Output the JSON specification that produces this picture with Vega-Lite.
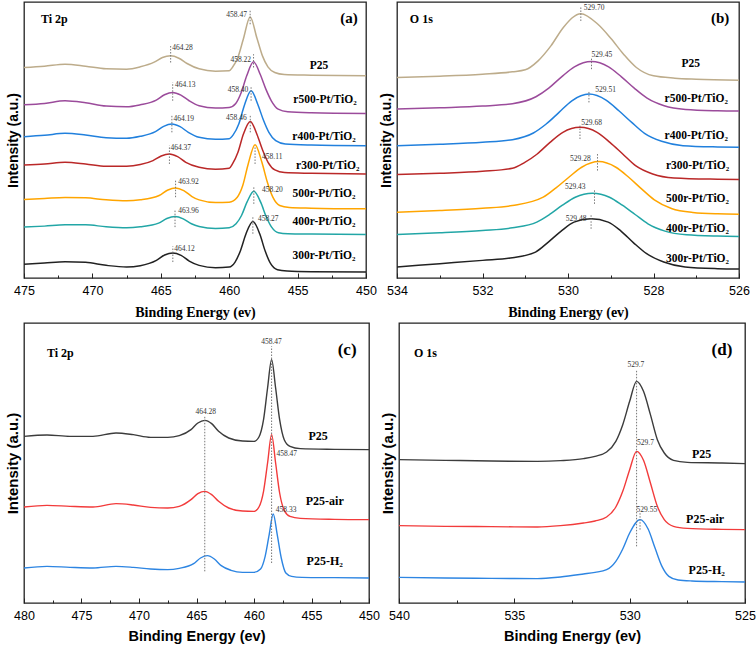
{
  "$schema": "https://vega.github.io/schema/vega-lite/v6.json",
  "padding": {"left": 4, "top": 1, "right": 2, "bottom": 2},
  "background": "white",
  "config": {
    "view": {"stroke": "#222", "strokeWidth": 1.3},
    "axisX": {"grid": false, "domain": false, "labelFont": "Liberation Sans", "labelFontSize": 12.5, "labelColor": "#000", "tickColor": "#222", "tickWidth": 1, "labelPadding": 11, "labelFlush": false, "labelOverlap": false, "labelBound": false, "titleFontWeight": "bold", "titleColor": "#000"},
    "axisY": {"title": "Intensity (a.u.)", "labels": false, "ticks": false, "domain": false, "grid": false, "titleFont": "Liberation Sans", "titleFontWeight": "bold", "titleColor": "#000", "titlePadding": 4}
  },
  "datasets": {
    "a": [
      {"s":"P25","x":475,"y":640},{"s":"P25","x":473.5,"y":644},{"s":"P25","x":472,"y":650},{"s":"P25","x":470.5,"y":644},{"s":"P25","x":469,"y":636},{"s":"P25","x":467.5,"y":635},{"s":"P25","x":466.5,"y":642},{"s":"P25","x":465.48,"y":656},{"s":"P25","x":464.88,"y":670},{"s":"P25","x":464.28,"y":675},{"s":"P25","x":463.68,"y":668},{"s":"P25","x":463.08,"y":652},{"s":"P25","x":462.2,"y":636},{"s":"P25","x":461,"y":629},{"s":"P25","x":460,"y":630},{"s":"P25","x":459.77,"y":640},{"s":"P25","x":459.37,"y":670},{"s":"P25","x":458.97,"y":725},{"s":"P25","x":458.47,"y":792},{"s":"P25","x":457.97,"y":728},{"s":"P25","x":457.57,"y":675},{"s":"P25","x":457.17,"y":642},{"s":"P25","x":456.67,"y":625},{"s":"P25","x":455.97,"y":619},{"s":"P25","x":454,"y":617},{"s":"P25","x":450,"y":615},
      {"s":"r500","x":475,"y":528},{"s":"r500","x":473.5,"y":532},{"s":"r500","x":472,"y":540},{"s":"r500","x":470.5,"y":534},{"s":"r500","x":469,"y":524},{"s":"r500","x":467.5,"y":522},{"s":"r500","x":466.5,"y":528},{"s":"r500","x":465.33,"y":542},{"s":"r500","x":464.73,"y":558},{"s":"r500","x":464.13,"y":565},{"s":"r500","x":463.53,"y":557},{"s":"r500","x":462.93,"y":540},{"s":"r500","x":462.2,"y":525},{"s":"r500","x":461,"y":518},{"s":"r500","x":460,"y":520},{"s":"r500","x":459.52,"y":532},{"s":"r500","x":459.12,"y":565},{"s":"r500","x":458.72,"y":615},{"s":"r500","x":458.22,"y":657},{"s":"r500","x":457.72,"y":618},{"s":"r500","x":457.32,"y":575},{"s":"r500","x":456.92,"y":540},{"s":"r500","x":456.42,"y":515},{"s":"r500","x":455.72,"y":507},{"s":"r500","x":454,"y":504},{"s":"r500","x":450,"y":502},
      {"s":"r400","x":475,"y":432},{"s":"r400","x":473.5,"y":436},{"s":"r400","x":472,"y":442},{"s":"r400","x":470.5,"y":437},{"s":"r400","x":469,"y":429},{"s":"r400","x":467.5,"y":427},{"s":"r400","x":466.5,"y":433},{"s":"r400","x":465.39,"y":447},{"s":"r400","x":464.79,"y":463},{"s":"r400","x":464.19,"y":470},{"s":"r400","x":463.59,"y":462},{"s":"r400","x":462.99,"y":445},{"s":"r400","x":462.2,"y":430},{"s":"r400","x":461,"y":424},{"s":"r400","x":460,"y":426},{"s":"r400","x":459.7,"y":438},{"s":"r400","x":459.3,"y":470},{"s":"r400","x":458.9,"y":525},{"s":"r400","x":458.4,"y":570},{"s":"r400","x":457.9,"y":528},{"s":"r400","x":457.5,"y":482},{"s":"r400","x":457.1,"y":445},{"s":"r400","x":456.6,"y":420},{"s":"r400","x":455.9,"y":410},{"s":"r400","x":454,"y":407},{"s":"r400","x":450,"y":405},
      {"s":"r300","x":475,"y":347},{"s":"r300","x":473.5,"y":350},{"s":"r300","x":472,"y":355},{"s":"r300","x":470.5,"y":350},{"s":"r300","x":469,"y":343},{"s":"r300","x":467.5,"y":343},{"s":"r300","x":466.5,"y":348},{"s":"r300","x":465.57,"y":360},{"s":"r300","x":464.97,"y":374},{"s":"r300","x":464.37,"y":380},{"s":"r300","x":463.77,"y":372},{"s":"r300","x":463.17,"y":355},{"s":"r300","x":462.2,"y":340},{"s":"r300","x":461,"y":334},{"s":"r300","x":460,"y":337},{"s":"r300","x":459.76,"y":350},{"s":"r300","x":459.36,"y":385},{"s":"r300","x":458.96,"y":440},{"s":"r300","x":458.46,"y":478},{"s":"r300","x":457.96,"y":438},{"s":"r300","x":457.56,"y":392},{"s":"r300","x":457.16,"y":355},{"s":"r300","x":456.66,"y":332},{"s":"r300","x":455.96,"y":324},{"s":"r300","x":454,"y":322},{"s":"r300","x":450,"y":320},
      {"s":"500r","x":475,"y":243},{"s":"500r","x":473.5,"y":246},{"s":"500r","x":472,"y":249},{"s":"500r","x":470.5,"y":248},{"s":"500r","x":469,"y":242},{"s":"500r","x":467.5,"y":239},{"s":"500r","x":466.5,"y":242},{"s":"500r","x":465.12,"y":255},{"s":"500r","x":464.52,"y":271},{"s":"500r","x":463.92,"y":278},{"s":"500r","x":463.32,"y":270},{"s":"500r","x":462.72,"y":252},{"s":"500r","x":462.2,"y":242},{"s":"500r","x":461,"y":234},{"s":"500r","x":460,"y":235},{"s":"500r","x":459.41,"y":250},{"s":"500r","x":459.01,"y":285},{"s":"500r","x":458.61,"y":350},{"s":"500r","x":458.11,"y":408},{"s":"500r","x":457.61,"y":355},{"s":"500r","x":457.21,"y":295},{"s":"500r","x":456.81,"y":250},{"s":"500r","x":456.31,"y":225},{"s":"500r","x":455.61,"y":219},{"s":"500r","x":454,"y":217},{"s":"500r","x":450,"y":215},
      {"s":"400r","x":475,"y":160},{"s":"400r","x":473.5,"y":163},{"s":"400r","x":472,"y":167},{"s":"400r","x":470.5,"y":167},{"s":"400r","x":469,"y":161},{"s":"400r","x":467.5,"y":158},{"s":"400r","x":466.5,"y":161},{"s":"400r","x":465.16,"y":172},{"s":"400r","x":464.56,"y":186},{"s":"400r","x":463.96,"y":192},{"s":"400r","x":463.36,"y":185},{"s":"400r","x":462.76,"y":170},{"s":"400r","x":462.2,"y":162},{"s":"400r","x":461,"y":156},{"s":"400r","x":460,"y":158},{"s":"400r","x":459.5,"y":170},{"s":"400r","x":459.1,"y":195},{"s":"400r","x":458.7,"y":235},{"s":"400r","x":458.2,"y":268},{"s":"400r","x":457.7,"y":235},{"s":"400r","x":457.3,"y":192},{"s":"400r","x":456.9,"y":160},{"s":"400r","x":456.4,"y":143},{"s":"400r","x":455.7,"y":140},{"s":"400r","x":454,"y":139},{"s":"400r","x":450,"y":138},
      {"s":"300r","x":475,"y":48},{"s":"300r","x":473.5,"y":52},{"s":"300r","x":472,"y":56},{"s":"300r","x":470.5,"y":54},{"s":"300r","x":469,"y":45},{"s":"300r","x":467.5,"y":40},{"s":"300r","x":466.5,"y":44},{"s":"300r","x":465.32,"y":60},{"s":"300r","x":464.72,"y":76},{"s":"300r","x":464.12,"y":82},{"s":"300r","x":463.52,"y":75},{"s":"300r","x":462.92,"y":58},{"s":"300r","x":462.2,"y":45},{"s":"300r","x":461,"y":38},{"s":"300r","x":460,"y":40},{"s":"300r","x":459.57,"y":55},{"s":"300r","x":459.17,"y":90},{"s":"300r","x":458.77,"y":140},{"s":"300r","x":458.27,"y":177},{"s":"300r","x":457.77,"y":140},{"s":"300r","x":457.37,"y":88},{"s":"300r","x":456.97,"y":50},{"s":"300r","x":456.47,"y":32},{"s":"300r","x":455.77,"y":28},{"s":"300r","x":454,"y":26},{"s":"300r","x":450,"y":25}
    ],
    "a_pk": [
      {"x":464.28,"y":655,"y2":705},{"x":458.47,"y":770,"y2":815},{"x":458.22,"y":640,"y2":680},{"x":464.13,"y":540,"y2":595},{"x":458.40,"y":540,"y2":585},{"x":464.19,"y":445,"y2":495},{"x":458.46,"y":445,"y2":495},{"x":464.37,"y":350,"y2":405},{"x":458.11,"y":350,"y2":400},{"x":463.92,"y":250,"y2":300},{"x":458.20,"y":230,"y2":280},{"x":463.96,"y":160,"y2":210},{"x":458.27,"y":140,"y2":190},{"x":464.12,"y":55,"y2":102}
    ],
    "a_pl": [
      {"x":464.17,"y":698,"t":"464.28","al":"l"},{"x":458.7,"y":798,"t":"458.47","al":"r"},{"x":458.4,"y":664,"t":"458.22","al":"r"},{"x":463.97,"y":587,"t":"464.13","al":"l"},{"x":458.6,"y":572,"t":"458.40","al":"r"},{"x":464.08,"y":485,"t":"464.19","al":"l"},{"x":458.72,"y":488,"t":"458.46","al":"r"},{"x":464.3,"y":397,"t":"464.37","al":"l"},{"x":457.6,"y":372,"t":"458.11","al":"l"},{"x":463.73,"y":295,"t":"463.92","al":"l"},{"x":457.6,"y":272,"t":"458.20","al":"l"},{"x":463.73,"y":208,"t":"463.96","al":"l"},{"x":457.9,"y":185,"t":"458.27","al":"l"},{"x":464.02,"y":95,"t":"464.12","al":"l"}
    ],
    "a_cl": [
      {"x":453.43,"y":645,"t":"P25"},{"x":453.0,"y":542,"t":"r500-Pt/TiO₂"},{"x":453.07,"y":430,"t":"r400-Pt/TiO₂"},{"x":452.8,"y":343,"t":"r300-Pt/TiO₂"},{"x":453.07,"y":260,"t":"500r-Pt/TiO₂"},{"x":453.07,"y":175,"t":"400r-Pt/TiO₂"},{"x":453.07,"y":72,"t":"300r-Pt/TiO₂"}
    ],
    "b": [
      {"s":"P25","x":534,"y":610},{"s":"P25","x":533,"y":614},{"s":"P25","x":532,"y":620},{"s":"P25","x":531.3,"y":627},{"s":"P25","x":531.0,"y":633},{"s":"P25","x":530.7,"y":660},{"s":"P25","x":530.4,"y":705},{"s":"P25","x":530.1,"y":762},{"s":"P25","x":529.7,"y":802},{"s":"P25","x":529.3,"y":770},{"s":"P25","x":529.0,"y":728},{"s":"P25","x":528.7,"y":680},{"s":"P25","x":528.4,"y":640},{"s":"P25","x":528.0,"y":615},{"s":"P25","x":527.5,"y":608},{"s":"P25","x":527.0,"y":605},{"s":"P25","x":526,"y":602},
      {"s":"r500","x":534,"y":515},{"s":"r500","x":533,"y":519},{"s":"r500","x":532,"y":524},{"s":"r500","x":531.3,"y":531},{"s":"r500","x":530.75,"y":552},{"s":"r500","x":530.45,"y":578},{"s":"r500","x":530.15,"y":612},{"s":"r500","x":529.85,"y":642},{"s":"r500","x":529.45,"y":658},{"s":"r500","x":529.05,"y":642},{"s":"r500","x":528.75,"y":612},{"s":"r500","x":528.45,"y":578},{"s":"r500","x":528.15,"y":548},{"s":"r500","x":527.75,"y":525},{"s":"r500","x":527.25,"y":514},{"s":"r500","x":526.5,"y":510},{"s":"r500","x":526,"y":509},
      {"s":"r400","x":534,"y":405},{"s":"r400","x":533,"y":409},{"s":"r400","x":532,"y":415},{"s":"r400","x":531.3,"y":423},{"s":"r400","x":530.81,"y":443},{"s":"r400","x":530.51,"y":470},{"s":"r400","x":530.21,"y":505},{"s":"r400","x":529.91,"y":540},{"s":"r400","x":529.51,"y":560},{"s":"r400","x":529.11,"y":542},{"s":"r400","x":528.81,"y":510},{"s":"r400","x":528.51,"y":475},{"s":"r400","x":528.21,"y":442},{"s":"r400","x":527.81,"y":418},{"s":"r400","x":527.31,"y":405},{"s":"r400","x":526.5,"y":401},{"s":"r400","x":526,"y":400},
      {"s":"r300","x":534,"y":318},{"s":"r300","x":533,"y":322},{"s":"r300","x":532,"y":328},{"s":"r300","x":531.3,"y":337},{"s":"r300","x":531.02,"y":354},{"s":"r300","x":530.72,"y":380},{"s":"r300","x":530.42,"y":415},{"s":"r300","x":530.12,"y":445},{"s":"r300","x":529.72,"y":460},{"s":"r300","x":529.32,"y":445},{"s":"r300","x":529.02,"y":415},{"s":"r300","x":528.72,"y":380},{"s":"r300","x":528.42,"y":345},{"s":"r300","x":528.02,"y":320},{"s":"r300","x":527.52,"y":308},{"s":"r300","x":526.5,"y":304},{"s":"r300","x":526,"y":303},
      {"s":"500r","x":534,"y":205},{"s":"500r","x":533,"y":210},{"s":"500r","x":532,"y":217},{"s":"500r","x":531.3,"y":225},{"s":"500r","x":530.58,"y":250},{"s":"500r","x":530.28,"y":278},{"s":"500r","x":529.98,"y":310},{"s":"500r","x":529.68,"y":340},{"s":"500r","x":529.28,"y":357},{"s":"500r","x":528.88,"y":340},{"s":"500r","x":528.58,"y":310},{"s":"500r","x":528.28,"y":275},{"s":"500r","x":527.98,"y":242},{"s":"500r","x":527.58,"y":216},{"s":"500r","x":527.08,"y":204},{"s":"500r","x":526.5,"y":200},{"s":"500r","x":526,"y":199},
      {"s":"400r","x":534,"y":138},{"s":"400r","x":533,"y":143},{"s":"400r","x":532,"y":150},{"s":"400r","x":531.3,"y":158},{"s":"400r","x":530.73,"y":175},{"s":"400r","x":530.43,"y":198},{"s":"400r","x":530.13,"y":226},{"s":"400r","x":529.83,"y":250},{"s":"400r","x":529.43,"y":262},{"s":"400r","x":529.03,"y":250},{"s":"400r","x":528.73,"y":226},{"s":"400r","x":528.43,"y":198},{"s":"400r","x":528.13,"y":170},{"s":"400r","x":527.73,"y":148},{"s":"400r","x":527.23,"y":137},{"s":"400r","x":526.5,"y":133},{"s":"400r","x":526,"y":132},
      {"s":"300r","x":534,"y":40},{"s":"300r","x":533,"y":50},{"s":"300r","x":532,"y":60},{"s":"300r","x":531.3,"y":68},{"s":"300r","x":530.76,"y":85},{"s":"300r","x":530.46,"y":115},{"s":"300r","x":530.16,"y":148},{"s":"300r","x":529.86,"y":175},{"s":"300r","x":529.46,"y":185},{"s":"300r","x":529.06,"y":175},{"s":"300r","x":528.76,"y":148},{"s":"300r","x":528.46,"y":112},{"s":"300r","x":528.16,"y":80},{"s":"300r","x":527.76,"y":55},{"s":"300r","x":527.26,"y":40},{"s":"300r","x":526.5,"y":35},{"s":"300r","x":526,"y":34}
    ],
    "b_pk": [
      {"x":529.70,"y":780,"y2":825},{"x":529.45,"y":635,"y2":670},{"x":529.51,"y":535,"y2":570},{"x":529.72,"y":425,"y2":465},{"x":529.31,"y":330,"y2":380},{"x":529.38,"y":230,"y2":275},{"x":529.46,"y":155,"y2":200}
    ],
    "b_pl": [
      {"x":529.63,"y":820,"t":"529.70","al":"l"},{"x":529.45,"y":677,"t":"529.45","al":"l"},{"x":529.36,"y":572,"t":"529.51","al":"l"},{"x":529.69,"y":472,"t":"529.68","al":"l"},{"x":529.47,"y":365,"t":"529.28","al":"r"},{"x":529.59,"y":282,"t":"529.43","al":"r"},{"x":529.57,"y":185,"t":"529.48","al":"r"}
    ],
    "b_cl": [
      {"x":527.13,"y":650,"t":"P25"},{"x":527.0,"y":545,"t":"r500-Pt/TiO₂"},{"x":527.0,"y":435,"t":"r400-Pt/TiO₂"},{"x":526.97,"y":345,"t":"r300-Pt/TiO₂"},{"x":526.97,"y":245,"t":"500r-Pt/TiO₂"},{"x":526.97,"y":155,"t":"400r-Pt/TiO₂"},{"x":526.97,"y":65,"t":"300r-Pt/TiO₂"}
    ],
    "c": [
      {"s":"P25","x":480,"y":500},{"s":"P25","x":478,"y":504},{"s":"P25","x":476,"y":500},{"s":"P25","x":474,"y":500},{"s":"P25","x":472,"y":510},{"s":"P25","x":470.5,"y":505},{"s":"P25","x":469,"y":497},{"s":"P25","x":467.5,"y":497},{"s":"P25","x":466.5,"y":502},{"s":"P25","x":465.48,"y":520},{"s":"P25","x":464.88,"y":540},{"s":"P25","x":464.28,"y":548},{"s":"P25","x":463.68,"y":538},{"s":"P25","x":463.08,"y":515},{"s":"P25","x":462.2,"y":495},{"s":"P25","x":461,"y":486},{"s":"P25","x":460,"y":485},{"s":"P25","x":459.57,"y":498},{"s":"P25","x":459.17,"y":550},{"s":"P25","x":458.82,"y":645},{"s":"P25","x":458.47,"y":730},{"s":"P25","x":458.12,"y":645},{"s":"P25","x":457.77,"y":550},{"s":"P25","x":457.37,"y":490},{"s":"P25","x":456.87,"y":470},{"s":"P25","x":455.97,"y":463},{"s":"P25","x":453,"y":461},{"s":"P25","x":450,"y":460},
      {"s":"air","x":480,"y":288},{"s":"air","x":478,"y":293},{"s":"air","x":476,"y":290},{"s":"air","x":474,"y":288},{"s":"air","x":472,"y":298},{"s":"air","x":470.5,"y":294},{"s":"air","x":469,"y":287},{"s":"air","x":467.5,"y":285},{"s":"air","x":466.5,"y":290},{"s":"air","x":465.48,"y":310},{"s":"air","x":464.88,"y":328},{"s":"air","x":464.28,"y":335},{"s":"air","x":463.68,"y":325},{"s":"air","x":463.08,"y":305},{"s":"air","x":462.2,"y":285},{"s":"air","x":461,"y":276},{"s":"air","x":460,"y":275},{"s":"air","x":459.57,"y":288},{"s":"air","x":459.17,"y":335},{"s":"air","x":458.82,"y":420},{"s":"air","x":458.47,"y":505},{"s":"air","x":458.12,"y":420},{"s":"air","x":457.77,"y":330},{"s":"air","x":457.37,"y":278},{"s":"air","x":456.87,"y":260},{"s":"air","x":455.97,"y":254},{"s":"air","x":453,"y":251},{"s":"air","x":450,"y":250},
      {"s":"H2","x":480,"y":105},{"s":"H2","x":478,"y":110},{"s":"H2","x":476,"y":107},{"s":"H2","x":474,"y":105},{"s":"H2","x":472,"y":110},{"s":"H2","x":470.5,"y":107},{"s":"H2","x":469,"y":102},{"s":"H2","x":467.5,"y":100},{"s":"H2","x":466.5,"y":104},{"s":"H2","x":465.25,"y":118},{"s":"H2","x":464.65,"y":135},{"s":"H2","x":464.05,"y":142},{"s":"H2","x":463.45,"y":132},{"s":"H2","x":462.85,"y":112},{"s":"H2","x":462,"y":98},{"s":"H2","x":461,"y":92},{"s":"H2","x":460,"y":92},{"s":"H2","x":459.43,"y":102},{"s":"H2","x":459.03,"y":140},{"s":"H2","x":458.68,"y":205},{"s":"H2","x":458.33,"y":267},{"s":"H2","x":457.98,"y":205},{"s":"H2","x":457.63,"y":135},{"s":"H2","x":457.23,"y":90},{"s":"H2","x":456.73,"y":80},{"s":"H2","x":455.83,"y":77},{"s":"H2","x":453,"y":76},{"s":"H2","x":450,"y":75}
    ],
    "c_pk": [{"x":458.47,"y":120,"y2":770},{"x":464.28,"y":95,"y2":560}],
    "c_pl": [
      {"x":458.48,"y":782,"t":"458.47","al":"c"},{"x":464.2,"y":572,"t":"464.28","al":"c"},{"x":458.05,"y":448,"t":"458.47","al":"l"},{"x":458.1,"y":278,"t":"458.33","al":"l"}
    ],
    "c_cl": [{"x":454.43,"y":502,"t":"P25"},{"x":453.85,"y":305,"t":"P25-air"},{"x":453.85,"y":125,"t":"P25-H₂"}],
    "d": [
      {"s":"P25","x":540,"y":430},{"s":"P25","x":538,"y":428},{"s":"P25","x":536,"y":426},{"s":"P25","x":534,"y":425},{"s":"P25","x":533,"y":427},{"s":"P25","x":532,"y":433},{"s":"P25","x":531.5,"y":440},{"s":"P25","x":531.0,"y":453},{"s":"P25","x":530.6,"y":485},{"s":"P25","x":530.3,"y":535},{"s":"P25","x":530.0,"y":605},{"s":"P25","x":529.7,"y":665},{"s":"P25","x":529.4,"y":635},{"s":"P25","x":529.1,"y":565},{"s":"P25","x":528.8,"y":490},{"s":"P25","x":528.5,"y":450},{"s":"P25","x":528.1,"y":428},{"s":"P25","x":527.5,"y":422},{"s":"P25","x":526,"y":420},{"s":"P25","x":525,"y":418},
      {"s":"air","x":540,"y":232},{"s":"air","x":538,"y":230},{"s":"air","x":536,"y":229},{"s":"air","x":534,"y":228},{"s":"air","x":533,"y":232},{"s":"air","x":532,"y":240},{"s":"air","x":531.5,"y":246},{"s":"air","x":531.0,"y":258},{"s":"air","x":530.6,"y":288},{"s":"air","x":530.3,"y":335},{"s":"air","x":530.0,"y":400},{"s":"air","x":529.7,"y":455},{"s":"air","x":529.4,"y":428},{"s":"air","x":529.1,"y":360},{"s":"air","x":528.8,"y":290},{"s":"air","x":528.5,"y":250},{"s":"air","x":528.1,"y":230},{"s":"air","x":527.5,"y":224},{"s":"air","x":526,"y":221},{"s":"air","x":525,"y":220},
      {"s":"H2","x":540,"y":77},{"s":"H2","x":538,"y":75},{"s":"H2","x":536,"y":74},{"s":"H2","x":534,"y":73},{"s":"H2","x":533,"y":78},{"s":"H2","x":532,"y":87},{"s":"H2","x":531.5,"y":92},{"s":"H2","x":531.0,"y":100},{"s":"H2","x":530.6,"y":125},{"s":"H2","x":530.3,"y":162},{"s":"H2","x":530.0,"y":210},{"s":"H2","x":529.55,"y":250},{"s":"H2","x":529.2,"y":222},{"s":"H2","x":528.9,"y":165},{"s":"H2","x":528.6,"y":110},{"s":"H2","x":528.3,"y":80},{"s":"H2","x":527.9,"y":69},{"s":"H2","x":527.3,"y":66},{"s":"H2","x":526,"y":64},{"s":"H2","x":525,"y":63}
    ],
    "d_pk": [{"x":529.7,"y":170,"y2":700},{"x":529.55,"y":220,"y2":270}],
    "d_pl": [
      {"x":529.73,"y":715,"t":"529.7","al":"c"},{"x":529.68,"y":480,"t":"529.7","al":"l"},{"x":529.7,"y":278,"t":"529.55","al":"l"}
    ],
    "d_cl": [{"x":526.88,"y":448,"t":"P25"},{"x":526.73,"y":253,"t":"P25-air"},{"x":526.66,"y":98,"t":"P25-H₂"}]
  },
  "vconcat": [
    {
      "hconcat": [
        {
          "width": 342, "height": 276,
          "encoding": {
            "x": {"field": "x", "type": "quantitative", "scale": {"domain": [450, 475], "reverse": true, "nice": false, "zero": false},
                  "axis": {"values": [450, 452.5, 455, 457.5, 460, 462.5, 465, 467.5, 470, 472.5, 475], "format": "d", "labelExpr": "datum.value % 5 == 0 ? datum.label : ''", "tickSize": {"condition": {"test": "datum.value % 5 == 0", "value": -5}, "value": -3}, "title": "Binding Energy (ev)", "titleFont": "Liberation Serif", "titleFontSize": 14, "titlePadding": 7}},
            "y": {"field": "y", "type": "quantitative", "scale": {"domain": [7, 837], "nice": false, "zero": false}, "axis": {"title": "Intensity (a.u.)", "titleFontSize": 14}}
          },
          "layer": [
            {"data": {"name": "a"}, "mark": {"type": "line", "interpolate": "monotone", "strokeWidth": 1.5},
             "encoding": {"color": {"field": "s", "type": "nominal", "legend": null, "scale": {"domain": ["P25", "r500", "r400", "r300", "500r", "400r", "300r"], "range": ["#BDAC8B", "#9B4B9B", "#2180DD", "#BA2828", "#FFA500", "#22A6A6", "#222222"]}}}},
            {"data": {"name": "a_pk"}, "mark": {"type": "rule", "strokeDash": [1.5, 1.5], "color": "#777", "strokeWidth": 1}, "encoding": {"y2": {"field": "y2"}}},
            {"data": {"name": "a_pl"}, "transform": [{"filter": "datum.al == 'l'"}], "mark": {"type": "text", "align": "left", "baseline": "middle", "font": "Liberation Serif", "fontSize": 7.5, "color": "#333"}, "encoding": {"text": {"field": "t"}}},
            {"data": {"name": "a_pl"}, "transform": [{"filter": "datum.al == 'r'"}], "mark": {"type": "text", "align": "right", "baseline": "middle", "font": "Liberation Serif", "fontSize": 7.5, "color": "#333"}, "encoding": {"text": {"field": "t"}}},
            {"data": {"name": "a_cl"}, "mark": {"type": "text", "align": "center", "baseline": "middle", "font": "Liberation Serif", "fontWeight": "bold", "fontSize": 11.5, "color": "#000"}, "encoding": {"text": {"field": "t"}}},
            {"data": {"values": [{"x": 451.24, "y": 789, "t": "(a)"}]}, "mark": {"type": "text", "align": "center", "baseline": "middle", "font": "Liberation Serif", "fontWeight": "bold", "fontSize": 15, "color": "#000"}, "encoding": {"text": {"field": "t"}}},
            {"data": {"values": [{"x": 473.76, "y": 785, "t": "Ti 2p"}]}, "mark": {"type": "text", "align": "left", "baseline": "middle", "font": "Liberation Serif", "fontWeight": "bold", "fontSize": 12, "color": "#000"}, "encoding": {"text": {"field": "t"}}}
          ]
        },
        {
          "width": 342, "height": 276,
          "encoding": {
            "x": {"field": "x", "type": "quantitative", "scale": {"domain": [526, 534], "reverse": true, "nice": false, "zero": false},
                  "axis": {"values": [526, 527, 528, 529, 530, 531, 532, 533, 534], "format": "d", "labelExpr": "datum.value % 2 == 0 ? datum.label : ''", "tickSize": {"condition": {"test": "datum.value % 2 == 0", "value": -5}, "value": -3}, "title": "Binding Energy (ev)", "titleFont": "Liberation Serif", "titleFontSize": 14, "titlePadding": 7}},
            "y": {"field": "y", "type": "quantitative", "scale": {"domain": [7, 837], "nice": false, "zero": false}, "axis": {"title": "Intensity (a.u.)", "titleFontSize": 14}}
          },
          "layer": [
            {"data": {"name": "b"}, "mark": {"type": "line", "interpolate": "monotone", "strokeWidth": 1.5},
             "encoding": {"color": {"field": "s", "type": "nominal", "legend": null, "scale": {"domain": ["P25", "r500", "r400", "r300", "500r", "400r", "300r"], "range": ["#BDAC8B", "#9B4B9B", "#2180DD", "#BA2828", "#FFA500", "#22A6A6", "#222222"]}}}},
            {"data": {"name": "b_pk"}, "mark": {"type": "rule", "strokeDash": [1.5, 1.5], "color": "#777", "strokeWidth": 1}, "encoding": {"y2": {"field": "y2"}}},
            {"data": {"name": "b_pl"}, "transform": [{"filter": "datum.al == 'l'"}], "mark": {"type": "text", "align": "left", "baseline": "middle", "font": "Liberation Serif", "fontSize": 7.5, "color": "#333"}, "encoding": {"text": {"field": "t"}}},
            {"data": {"name": "b_pl"}, "transform": [{"filter": "datum.al == 'r'"}], "mark": {"type": "text", "align": "right", "baseline": "middle", "font": "Liberation Serif", "fontSize": 7.5, "color": "#333"}, "encoding": {"text": {"field": "t"}}},
            {"data": {"name": "b_cl"}, "mark": {"type": "text", "align": "center", "baseline": "middle", "font": "Liberation Serif", "fontWeight": "bold", "fontSize": 11.5, "color": "#000"}, "encoding": {"text": {"field": "t"}}},
            {"data": {"values": [{"x": 526.44, "y": 789, "t": "(b)"}]}, "mark": {"type": "text", "align": "center", "baseline": "middle", "font": "Liberation Serif", "fontWeight": "bold", "fontSize": 15, "color": "#000"}, "encoding": {"text": {"field": "t"}}},
            {"data": {"values": [{"x": 533.7, "y": 785, "t": "O 1s"}]}, "mark": {"type": "text", "align": "left", "baseline": "middle", "font": "Liberation Serif", "fontWeight": "bold", "fontSize": 12, "color": "#000"}, "encoding": {"text": {"field": "t"}}}
          ]
        }
      ],
      "spacing": 31, "bounds": "flush"
    },
    {
      "hconcat": [
        {
          "width": 345, "height": 280,
          "encoding": {
            "x": {"field": "x", "type": "quantitative", "scale": {"domain": [450, 480], "reverse": true, "nice": false, "zero": false},
                  "axis": {"values": [450, 452.5, 455, 457.5, 460, 462.5, 465, 467.5, 470, 472.5, 475, 477.5, 480], "format": "d", "labelExpr": "datum.value % 5 == 0 ? datum.label : ''", "tickSize": {"condition": {"test": "datum.value % 5 == 0", "value": -5}, "value": -3}, "title": "Binding Energy (ev)", "titleFont": "Liberation Sans", "titleFontSize": 14.5, "titlePadding": 6}},
            "y": {"field": "y", "type": "quantitative", "scale": {"domain": [0, 840], "nice": false, "zero": false}, "axis": {"title": "Intensity (a.u.)", "titleFontSize": 15}}
          },
          "layer": [
            {"data": {"name": "c"}, "mark": {"type": "line", "interpolate": "monotone", "strokeWidth": 1.4},
             "encoding": {"color": {"field": "s", "type": "nominal", "legend": null, "scale": {"domain": ["P25", "air", "H2"], "range": ["#3C3C3C", "#F23B3B", "#2D85E2"]}}}},
            {"data": {"name": "c_pk"}, "mark": {"type": "rule", "strokeDash": [1.5, 1.5], "color": "#777", "strokeWidth": 1}, "encoding": {"y2": {"field": "y2"}}},
            {"data": {"name": "c_pl"}, "transform": [{"filter": "datum.al == 'l'"}], "mark": {"type": "text", "align": "left", "baseline": "middle", "font": "Liberation Serif", "fontSize": 7.5, "color": "#333"}, "encoding": {"text": {"field": "t"}}},
            {"data": {"name": "c_pl"}, "transform": [{"filter": "datum.al == 'c'"}], "mark": {"type": "text", "align": "center", "baseline": "middle", "font": "Liberation Serif", "fontSize": 7.5, "color": "#333"}, "encoding": {"text": {"field": "t"}}},
            {"data": {"name": "c_cl"}, "mark": {"type": "text", "align": "center", "baseline": "middle", "font": "Liberation Serif", "fontWeight": "bold", "fontSize": 12, "color": "#000"}, "encoding": {"text": {"field": "t"}}},
            {"data": {"values": [{"x": 451.9, "y": 760, "t": "(c)"}]}, "mark": {"type": "text", "align": "center", "baseline": "middle", "font": "Liberation Serif", "fontWeight": "bold", "fontSize": 17, "color": "#000"}, "encoding": {"text": {"field": "t"}}},
            {"data": {"values": [{"x": 478.0, "y": 750, "t": "Ti 2p"}]}, "mark": {"type": "text", "align": "left", "baseline": "middle", "font": "Liberation Serif", "fontWeight": "bold", "fontSize": 12, "color": "#000"}, "encoding": {"text": {"field": "t"}}}
          ]
        },
        {
          "width": 346, "height": 280,
          "encoding": {
            "x": {"field": "x", "type": "quantitative", "scale": {"domain": [525, 540], "reverse": true, "nice": false, "zero": false},
                  "axis": {"values": [525, 527.5, 530, 532.5, 535, 537.5, 540], "format": "d", "labelExpr": "datum.value % 5 == 0 ? datum.label : ''", "tickSize": {"condition": {"test": "datum.value % 5 == 0", "value": -5}, "value": -3}, "title": "Binding Energy (ev)", "titleFont": "Liberation Sans", "titleFontSize": 14.5, "titlePadding": 6}},
            "y": {"field": "y", "type": "quantitative", "scale": {"domain": [0, 840], "nice": false, "zero": false}, "axis": {"title": "Intensity (a.u.)", "titleFontSize": 15}}
          },
          "layer": [
            {"data": {"name": "d"}, "mark": {"type": "line", "interpolate": "monotone", "strokeWidth": 1.4},
             "encoding": {"color": {"field": "s", "type": "nominal", "legend": null, "scale": {"domain": ["P25", "air", "H2"], "range": ["#3C3C3C", "#F23B3B", "#2D85E2"]}}}},
            {"data": {"name": "d_pk"}, "mark": {"type": "rule", "strokeDash": [1.5, 1.5], "color": "#777", "strokeWidth": 1}, "encoding": {"y2": {"field": "y2"}}},
            {"data": {"name": "d_pl"}, "transform": [{"filter": "datum.al == 'l'"}], "mark": {"type": "text", "align": "left", "baseline": "middle", "font": "Liberation Serif", "fontSize": 7.5, "color": "#333"}, "encoding": {"text": {"field": "t"}}},
            {"data": {"name": "d_pl"}, "transform": [{"filter": "datum.al == 'c'"}], "mark": {"type": "text", "align": "center", "baseline": "middle", "font": "Liberation Serif", "fontSize": 7.5, "color": "#333"}, "encoding": {"text": {"field": "t"}}},
            {"data": {"name": "d_cl"}, "mark": {"type": "text", "align": "center", "baseline": "middle", "font": "Liberation Serif", "fontWeight": "bold", "fontSize": 12, "color": "#000"}, "encoding": {"text": {"field": "t"}}},
            {"data": {"values": [{"x": 526.0, "y": 760, "t": "(d)"}]}, "mark": {"type": "text", "align": "center", "baseline": "middle", "font": "Liberation Serif", "fontWeight": "bold", "fontSize": 17, "color": "#000"}, "encoding": {"text": {"field": "t"}}},
            {"data": {"values": [{"x": 539.35, "y": 750, "t": "O 1s"}]}, "mark": {"type": "text", "align": "left", "baseline": "middle", "font": "Liberation Serif", "fontWeight": "bold", "fontSize": 12, "color": "#000"}, "encoding": {"text": {"field": "t"}}}
          ]
        }
      ],
      "spacing": 30, "bounds": "flush"
    }
  ],
  "spacing": 1,
  "resolve": {"scale": {"color": "independent"}}
}
